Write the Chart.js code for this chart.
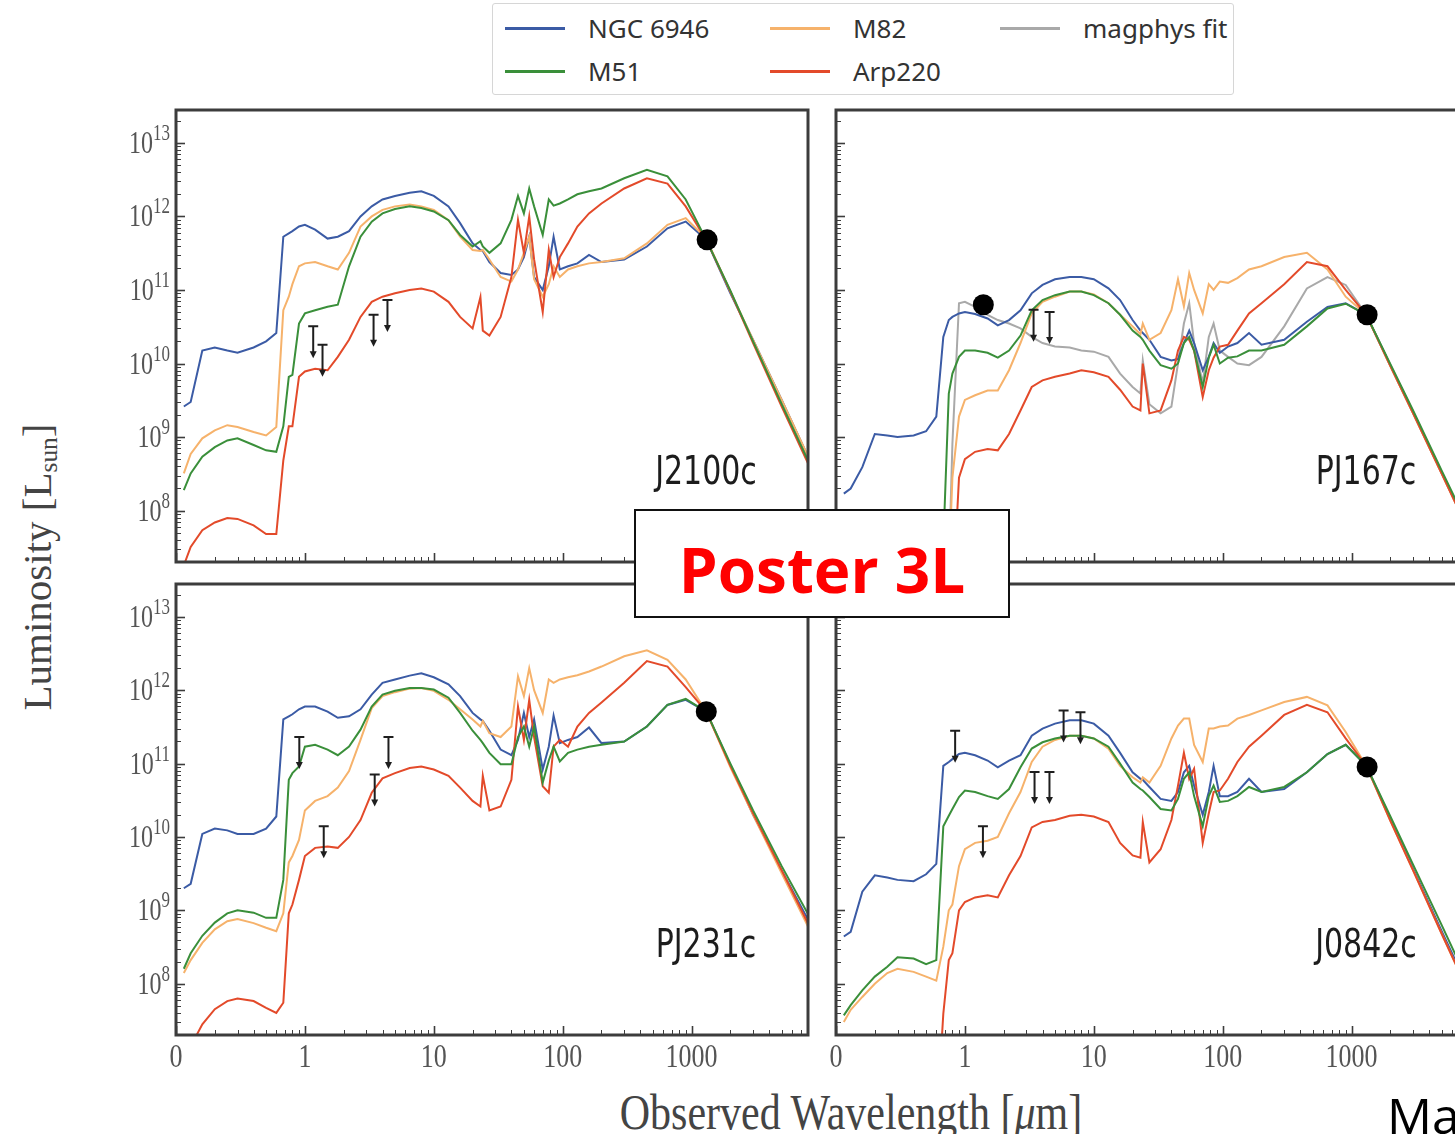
<!DOCTYPE html>
<html>
<head>
<meta charset="utf-8">
<script src="https://cdn.jsdelivr.net/npm/chart.js@4.4.1/dist/chart.umd.min.js"></script>
<style>
  html, body { margin: 0; padding: 0; }
  body { width: 1455px; height: 1134px; overflow: hidden; position: relative; background: #fff; }
  canvas.panel { position: absolute; }
  #legend { position: absolute; left: 492px; top: 3px; width: 742px; height: 92px; box-sizing: border-box;
            border: 1.5px solid #d6d6d6; border-radius: 3px; background: #fff; }
  .entry { position: absolute; height: 30px; width: 240px; }
  .swatch { position: absolute; left: 0; top: 14px; width: 60px; height: 3px; }
  .entry .label { position: absolute; left: 83px; top: 0; font: 26px "Noto Sans", sans-serif; color: #333;
                  line-height: 30px; white-space: nowrap; }
  #xtitle { position: absolute; left: 851px; top: 1112px; transform: translate(-50%, -50%) scaleY(1.2);
            font: 42px "Liberation Serif", serif; color: #444; white-space: nowrap; }
  #ytitle { position: absolute; left: 38px; top: 567px; transform: translate(-50%, -50%) rotate(-90deg);
            font: 41px "Liberation Serif", serif; color: #444; white-space: nowrap; }
  #ytitle sub { font-size: 0.62em; vertical-align: -0.2em; }
  #posterBox { position: absolute; left: 634px; top: 509px; width: 376px; height: 109px; box-sizing: border-box;
               border: 2px solid #111; background: #fff; }
  #posterText { position: absolute; left: 634px; top: 538px; width: 376px; text-align: center;
                font: 700 62px "Open Sans", sans-serif; line-height: 62px; color: #ff0000; }
  #ma { position: absolute; left: 1387px; top: 1090px; font: 50px "Open Sans", sans-serif; line-height: 50px; color: #000; }
</style>
</head>
<body>
<div id="legend"></div>
<div id="xtitle">Observed Wavelength [<i>μ</i>m]</div>
<div id="ytitle">Luminosity [L<sub>sun</sub>]</div>
<script>
// shared wavelength grid (observed, micron)
const wavelength = [
  0.115, 0.13, 0.16, 0.2, 0.25, 0.3, 0.4, 0.5, 0.6, 0.68,
  0.75, 0.8, 0.9, 1.0, 1.2, 1.5, 1.8, 2.2, 2.7, 3.3,
  4, 5, 6.5, 8, 10, 13, 16, 20, 23, 24,
  27, 33, 40, 45, 50, 55, 60, 70, 78, 85,
  95, 110, 130, 160, 200, 300, 450, 650, 900, 1300,
  2000, 3000, 5000, 8000
];

const seriesNames = ['NGC 6946', 'M51', 'M82', 'Arp220', 'magphys fit'];
const seriesColors = ['#3b5ba5', '#3a8f3a', '#f6b26b', '#e34a2a', '#a9a9a9'];

const xTickValues = [0.1, 1, 10, 100, 1000];
const xTickLabels = ['0', '1', '10', '100', '1000'];
const yTickValues = [1e8, 1e9, 1e10, 1e11, 1e12, 1e13];
const yTickExponents = ['8', '9', '10', '11', '12', '13'];

// ---- J2100c ----
const j2100cNGC6946 = [
  2.6e9, 3.0e9, 1.5e10, 1.65e10, 1.5e10, 1.4e10, 1.65e10, 2.0e10, 2.6e10, 5.3e11,
  5.9e11, 6.3e11, 7.3e11, 7.7e11, 6.6e11, 5.0e11, 5.3e11, 6.3e11, 1.0e12, 1.37e12,
  1.7e12, 1.9e12, 2.1e12, 2.2e12, 1.9e12, 1.37e12, 8.1e11, 4.3e11, 3.5e11, 3.4e11,
  2.4e11, 1.7e11, 1.6e11, 1.9e11, 2.8e11, 5.3e11, 1.5e11, 1.0e11, 2.1e11, 5.3e11,
  1.9e11, 2.1e11, 2.3e11, 3.0e11, 2.4e11, 2.6e11, 3.9e11, 6.9e11, 8.5e11, 4.8e11,
  9.0e10, 2.1e10, 3.2e9, 5.4e8
];
const j2100cM51 = [
  1.9e8, 3.2e8, 5.4e8, 7.3e8, 9.0e8, 9.6e8, 7.8e8, 6.6e8, 6.3e8, 1.4e9,
  6.6e9, 7.0e9, 3.5e10, 4.8e10, 5.3e10, 5.9e10, 6.3e10, 2.1e11, 5.3e11, 8.5e11,
  1.1e12, 1.26e12, 1.37e12, 1.3e12, 1.17e12, 8.9e11, 5.6e11, 3.9e11, 4.6e11, 3.9e11,
  3.2e11, 4.3e11, 9.0e11, 1.9e12, 1.1e12, 2.4e12, 1.37e12, 5.6e11, 1.7e12, 1.4e12,
  1.5e12, 1.7e12, 2.0e12, 2.2e12, 2.4e12, 3.3e12, 4.3e12, 3.5e12, 1.7e12, 4.8e11,
  9.8e10, 2.0e10, 2.8e9, 4.8e8
];
const j2100cM82 = [
  3.2e8, 5.9e8, 9.6e8, 1.23e9, 1.45e9, 1.37e9, 1.17e9, 1.05e9, 1.37e9, 5.3e10,
  8.1e10, 1.2e11, 2.1e11, 2.3e11, 2.4e11, 2.1e11, 1.9e11, 3.2e11, 7.3e11, 1.0e12,
  1.23e12, 1.37e12, 1.45e12, 1.37e12, 1.23e12, 8.9e11, 5.3e11, 3.5e11, 3.4e11, 3.5e11,
  2.6e11, 1.5e11, 1.3e11, 1.9e11, 3.2e11, 5.3e11, 1.4e11, 8.1e10, 1.2e11, 2.1e11,
  1.5e11, 1.9e11, 2.1e11, 2.3e11, 2.4e11, 2.7e11, 4.3e11, 7.7e11, 9.5e11, 5.0e11,
  9.5e10, 2.1e10, 3.2e9, 5.5e8
];
const j2100cArp220 = [
  1.8e7, 3.2e7, 5.4e7, 6.9e7, 7.9e7, 7.7e7, 6.3e7, 4.8e7, 4.8e7, 4.8e8,
  1.4e9, 1.4e9, 6.6e9, 7.8e9, 8.5e9, 8.1e9, 1.23e10, 2.1e10, 4.3e10, 6.9e10,
  8.1e10, 9.0e10, 1.0e11, 1.05e11, 9.5e10, 6.9e10, 4.3e10, 3.0e10, 8.0e10, 2.8e10,
  2.4e10, 4.3e10, 1.5e11, 9.0e11, 3.2e11, 1.0e12, 2.6e11, 5.0e10, 3.5e11, 1.5e11,
  2.8e11, 4.3e11, 7.3e11, 1.1e12, 1.5e12, 2.4e12, 3.3e12, 2.8e12, 1.37e12, 4.8e11,
  9.5e10, 1.9e10, 2.6e9, 4.4e8
];
const j2100cDetections = [[1320, 4.8e11]];
const j2100cLimits = [[1.16, 3.2e10], [1.37, 1.8e10], [3.41, 4.6e10], [4.37, 7.3e10]];

// ---- PJ167c ----
const pj167cNGC6946 = [
  1.7e8, 2.0e8, 3.9e8, 1.1e9, 1.05e9, 1.0e9, 1.05e9, 1.2e9, 1.9e9, 2.3e10,
  3.9e10, 4.3e10, 4.8e10, 5.0e10, 4.7e10, 4.1e10, 3.3e10, 3.9e10, 5.3e10, 9.0e10,
  1.17e11, 1.4e11, 1.5e11, 1.5e11, 1.4e11, 1.05e11, 7.3e10, 3.9e10, 2.8e10, 2.6e10,
  2.1e10, 1.23e10, 1.1e10, 1.15e10, 1.9e10, 2.8e10, 1.9e10, 8.1e9, 1.23e10, 1.9e10,
  1.4e10, 1.7e10, 1.9e10, 2.6e10, 1.8e10, 2.1e10, 3.7e10, 5.9e10, 6.6e10, 4.6e10,
  9.5e9, 2.2e9, 3.3e8, 5.8e7
];
const pj167cM51 = [
  null, null, null, null, null, null, null, null, 1e6, 3.5e7,
  3.9e9, 7.3e9, 1.23e10, 1.5e10, 1.5e10, 1.4e10, 1.2e10, 1.5e10, 2.4e10, 5.3e10,
  7.3e10, 8.5e10, 9.5e10, 9.5e10, 8.5e10, 6.6e10, 4.6e10, 2.8e10, 2.3e10, 2.1e10,
  1.5e10, 9.5e9, 8.5e9, 1.0e10, 1.9e10, 2.3e10, 1.5e10, 4.8e9, 1.2e10, 1.8e10,
  1.0e10, 1.2e10, 1.25e10, 1.5e10, 1.5e10, 1.8e10, 3.2e10, 5.6e10, 6.5e10, 4.6e10,
  9.8e9, 2.3e9, 3.5e8, 6.3e7
];
const pj167cM82 = [
  null, null, null, null, null, null, null, null, null, null,
  1.5e7, 2.8e8, 1.9e9, 3.2e9, 3.7e9, 4.3e9, 4.3e9, 8.1e9, 1.9e10, 4.8e10,
  6.9e10, 8.1e10, 9.5e10, 9.5e10, 8.7e10, 6.6e10, 4.6e10, 3.2e10, 2.5e10, 3.5e10,
  2.1e10, 2.6e10, 5.3e10, 1.4e11, 6.0e10, 1.7e11, 1.0e11, 4.8e10, 1.2e11, 1.0e11,
  1.3e11, 1.25e11, 1.45e11, 1.9e11, 2.1e11, 2.8e11, 3.2e11, 1.9e11, 8.1e10, 4.6e10,
  9.2e9, 2.1e9, 3.2e8, 5.5e7
];
const pj167cArp220 = [
  null, null, null, null, null, null, null, null, null, null,
  null, 5e6, 2.8e8, 5.0e8, 6.3e8, 6.9e8, 6.6e8, 1.1e9, 2.3e9, 4.8e9,
  5.9e9, 6.6e9, 7.3e9, 8.1e9, 7.6e9, 6.6e9, 4.4e9, 2.6e9, 2.3e9, 1.0e10,
  2.1e9, 2.3e9, 5.9e9, 1.5e10, 2.3e10, 2.1e10, 1.5e10, 3.5e9, 8.1e9, 1.2e10,
  1.7e10, 1.8e10, 2.8e10, 4.8e10, 6.6e10, 1.2e11, 2.4e11, 2.1e11, 1.0e11, 4.6e10,
  9.2e9, 2.1e9, 3.2e8, 5.5e7
];
const pj167cMagphys = [
  null, null, null, null, null, null, null, null, null, null,
  1.5e7, 8.1e8, 6.6e10, 6.9e10, 5.9e10, 4.6e10, 3.9e10, 3.5e10, 3.0e10, 2.3e10,
  1.9e10, 1.7e10, 1.65e10, 1.5e10, 1.45e10, 1.23e10, 7.3e9, 4.8e9, 3.9e9, 1.1e10,
  2.8e9, 2.1e9, 2.6e9, 1.0e10, 3.5e10, 6.6e10, 1.9e10, 5.4e9, 2.3e10, 3.5e10,
  1.5e10, 1.23e10, 1.0e10, 9.5e9, 1.23e10, 3.2e10, 1.05e11, 1.5e11, 1.17e11, 4.6e10,
  9.2e9, 2.1e9, 3.2e8, 5.5e7
];
const pj167cDetections = [[1.39, 6.3e10], [1320, 4.6e10]];
const pj167cLimits = [[3.41, 5.4e10], [4.54, 5.0e10]];

// ---- PJ231c ----
const pj231cNGC6946 = [
  2.0e9, 2.3e9, 1.1e10, 1.3e10, 1.23e10, 1.1e10, 1.1e10, 1.3e10, 1.9e10, 4.0e11,
  4.4e11, 4.7e11, 5.5e11, 6.0e11, 6.0e11, 5.1e11, 4.2e11, 4.4e11, 5.5e11, 8.7e11,
  1.26e12, 1.4e12, 1.58e12, 1.7e12, 1.5e12, 1.2e12, 8.3e11, 4.9e11, 4.0e11, 3.8e11,
  2.8e11, 1.55e11, 1.3e11, 2.1e11, 4.9e11, 2.3e11, 4.0e11, 8.3e10, 1.7e11, 4.5e11,
  1.9e11, 2.1e11, 2.3e11, 3.1e11, 1.9e11, 2.0e11, 3.2e11, 6.3e11, 7.4e11, 5.1e11,
  9.5e10, 2.0e10, 3.5e9, 7.5e8
];
const pj231cM51 = [
  1.6e8, 2.6e8, 4.5e8, 6.8e8, 9.1e8, 1.0e9, 9.3e8, 7.9e8, 7.9e8, 2.6e9,
  6.0e10, 7.4e10, 9.1e10, 1.7e11, 1.8e11, 1.55e11, 1.3e11, 1.7e11, 2.9e11, 6.0e11,
  8.7e11, 9.8e11, 1.07e12, 1.07e12, 1.02e12, 7.9e11, 4.9e11, 2.8e11, 2.1e11, 1.9e11,
  1.4e11, 9.8e10, 9.8e10, 2.3e11, 3.2e11, 1.7e11, 3.2e11, 5.5e10, 1.1e11, 1.7e11,
  1.07e11, 1.4e11, 1.55e11, 1.7e11, 1.8e11, 2.0e11, 3.2e11, 6.3e11, 7.6e11, 5.1e11,
  1.0e11, 2.3e10, 4.0e9, 8.9e8
];
const pj231cM82 = [
  1.4e8, 2.1e8, 3.6e8, 5.5e8, 7.1e8, 7.6e8, 6.7e8, 5.8e8, 5.2e8, 9.1e8,
  4.5e9, 5.5e9, 9.1e9, 2.3e10, 3.1e10, 3.6e10, 4.7e10, 7.9e10, 2.1e11, 5.7e11,
  8.3e11, 9.4e11, 1.05e12, 1.07e12, 9.8e11, 7.4e11, 5.5e11, 4.0e11, 3.2e11, 3.8e11,
  2.6e11, 2.3e11, 3.2e11, 1.55e12, 8.3e11, 2.0e12, 1.0e12, 4.9e11, 1.4e12, 1.26e12,
  1.4e12, 1.5e12, 1.6e12, 1.8e12, 2.1e12, 2.9e12, 3.5e12, 2.6e12, 1.4e12, 5.1e11,
  8.9e10, 2.0e10, 3.2e9, 6.0e8
];
const pj231cArp220 = [
  1.2e7, 1.4e7, 2.8e7, 4.5e7, 5.8e7, 6.3e7, 5.8e7, 4.7e7, 4.0e7, 5.5e7,
  9.1e8, 1.2e9, 2.6e9, 5.5e9, 7.1e9, 7.4e9, 7.1e9, 1.0e10, 1.7e10, 4.0e10,
  6.3e10, 7.4e10, 8.7e10, 9.1e10, 8.3e10, 6.8e10, 4.7e10, 3.1e10, 2.6e10, 6.8e10,
  2.3e10, 2.6e10, 6.0e10, 6.0e11, 2.1e11, 7.4e11, 2.3e11, 4.9e10, 4.0e10, 1.7e11,
  2.1e11, 1.7e11, 3.2e11, 4.9e11, 6.8e11, 1.26e12, 2.5e12, 2.1e12, 1.1e12, 5.1e11,
  9.3e10, 2.1e10, 3.5e9, 6.6e8
];
const pj231cDetections = [[1300, 5.1e11]];
const pj231cLimits = [[0.905, 2.3e11], [1.40, 1.4e10], [3.48, 7.1e10], [4.45, 2.3e11]];

// ---- J0842c ----
const j0842cNGC6946 = [
  4.4e8, 5.1e8, 1.8e9, 3.0e9, 2.8e9, 2.6e9, 2.5e9, 3.1e9, 4.3e9, 9.3e10,
  1.05e11, 1.15e11, 1.35e11, 1.4e11, 1.3e11, 1.1e11, 8.9e10, 1.1e11, 1.3e11, 2.4e11,
  3.0e11, 3.5e11, 3.9e11, 3.9e11, 3.5e11, 2.4e11, 1.4e11, 7.6e10, 6.2e10, 6.0e10,
  4.8e10, 3.3e10, 3.1e10, 4.1e10, 7.6e10, 9.3e10, 5.0e10, 2.0e10, 4.1e10, 9.3e10,
  3.6e10, 3.6e10, 4.1e10, 6.2e10, 4.1e10, 4.5e10, 7.6e10, 1.35e11, 1.8e11, 9.3e10,
  1.8e10, 3.7e9, 5.2e8, 8.9e7
];
const j0842cM51 = [
  3.7e7, 5.1e7, 8.1e7, 1.25e8, 1.7e8, 2.3e8, 2.2e8, 1.85e8, 2.1e8, 1.4e10,
  1.95e10, 2.4e10, 3.5e10, 4.3e10, 4.1e10, 3.6e10, 3.3e10, 4.5e10, 8.9e10, 1.6e11,
  1.95e11, 2.2e11, 2.4e11, 2.4e11, 2.2e11, 1.7e11, 1.0e11, 5.5e10, 4.5e10, 4.3e10,
  3.5e10, 2.4e10, 2.3e10, 3.3e10, 6.2e10, 7.6e10, 3.6e10, 1.4e10, 3.6e10, 5.0e10,
  3.0e10, 3.1e10, 3.6e10, 4.8e10, 4.1e10, 4.8e10, 7.6e10, 1.35e11, 1.8e11, 9.3e10,
  1.9e10, 4.2e9, 6.3e8, 1.07e8
];
const j0842cM82 = [
  3.0e7, 4.4e7, 6.6e7, 1.0e8, 1.4e8, 1.6e8, 1.45e8, 1.25e8, 1.1e8, 3.2e8,
  1.0e9, 1.2e9, 4.0e9, 6.8e9, 8.3e9, 8.9e9, 1.0e10, 2.1e10, 4.1e10, 1.05e11,
  1.7e11, 2.1e11, 2.4e11, 2.4e11, 2.2e11, 1.6e11, 9.3e10, 6.5e10, 5.5e10, 6.5e10,
  5.5e10, 9.3e10, 2.2e11, 3.3e11, 4.1e11, 4.1e11, 1.8e11, 1.05e11, 3.0e11, 3.0e11,
  3.2e11, 3.3e11, 4.1e11, 4.6e11, 5.3e11, 6.9e11, 8.1e11, 6.2e11, 2.7e11, 9.3e10,
  1.66e10, 3.5e9, 4.8e8, 8.0e7
];
const j0842cArp220 = [
  null, null, null, null, null, null, null, null, 1e6, 3.9e7,
  2.1e8, 2.6e8, 1.0e9, 1.3e9, 1.5e9, 1.6e9, 1.5e9, 3.0e9, 5.5e9, 1.35e10,
  1.6e10, 1.7e10, 1.95e10, 2.0e10, 1.9e10, 1.6e10, 8.3e9, 5.6e9, 5.2e9, 1.6e10,
  4.5e9, 6.8e9, 1.7e10, 5.0e10, 1.4e11, 6.2e10, 8.5e10, 8.3e9, 2.1e10, 4.1e10,
  4.3e10, 6.2e10, 1.05e11, 1.7e11, 2.4e11, 4.6e11, 6.3e11, 5.0e11, 2.2e11, 9.3e10,
  1.66e10, 3.5e9, 4.8e8, 8.0e7
];
const j0842cDetections = [[1320, 9.0e10]];
const j0842cLimits = [[0.84, 2.8e11], [1.38, 1.4e10], [3.47, 7.7e10], [4.53, 7.7e10], [5.83, 5.3e11], [7.88, 5.0e11]];

// panel layout: frame = [left, top, right, bottom] of the plotting box in page pixels
const panels = [
  { name: 'J2100c', frame: [176, 110, 808, 562], showY: true, showX: false,
    series: [j2100cNGC6946, j2100cM51, j2100cM82, j2100cArp220, null],
    dots: j2100cDetections, limits: j2100cLimits },
  { name: 'PJ167c', frame: [836, 110, 1468, 562], showY: false, showX: false,
    series: [pj167cNGC6946, pj167cM51, pj167cM82, pj167cArp220, pj167cMagphys],
    dots: pj167cDetections, limits: pj167cLimits },
  { name: 'PJ231c', frame: [176, 584, 808, 1035], showY: true, showX: true,
    series: [pj231cNGC6946, pj231cM51, pj231cM82, pj231cArp220, null],
    dots: pj231cDetections, limits: pj231cLimits },
  { name: 'J0842c', frame: [836, 584, 1468, 1035], showY: false, showX: true,
    series: [j0842cNGC6946, j0842cM51, j0842cM82, j0842cArp220, null],
    dots: j0842cDetections, limits: j0842cLimits }
];

// which series ends up on top: first in this list is drawn last
const drawOrder = [1, 3, 2, 0, 4];

const PAD = { left: 100, top: 20, right: 20, bottom: 60 };
const FRAME_COLOR = '#3c3c3c';

function stretchedText(ctx, text, x, y, align, sy) {
  ctx.save();
  ctx.translate(x, y);
  ctx.scale(1, sy);
  ctx.textAlign = align;
  ctx.textBaseline = 'alphabetic';
  ctx.fillText(text, 0, 0);
  ctx.restore();
}

function makeDecor(panel) {
  return {
    id: 'decor_' + panel.name,
    afterDatasetsDraw(chart) {
      const { ctx, chartArea: a, scales: { x, y } } = chart;
      ctx.save();
      // upper limits (bar + arrow)
      ctx.strokeStyle = '#1e1e1e';
      ctx.fillStyle = '#1e1e1e';
      ctx.lineWidth = 2;
      panel.limits.forEach(([lx, ly]) => {
        const px = x.getPixelForValue(lx);
        const py = y.getPixelForValue(ly);
        ctx.beginPath();
        ctx.moveTo(px - 5, py); ctx.lineTo(px + 5, py);
        ctx.moveTo(px, py); ctx.lineTo(px, py + 26);
        ctx.stroke();
        ctx.beginPath();
        ctx.moveTo(px - 3.5, py + 25); ctx.lineTo(px + 3.5, py + 25); ctx.lineTo(px, py + 32);
        ctx.closePath();
        ctx.fill();
      });
      ctx.restore();
    },
    afterDraw(chart) {
      const { ctx, chartArea: a, scales: { x, y } } = chart;
      ctx.save();
      // inward ticks, left and bottom
      ctx.strokeStyle = FRAME_COLOR;
      for (let e = 7; e <= 13; e++) {
        for (let s = 1; s <= 9; s++) {
          const v = s * Math.pow(10, e);
          if (v < y.min || v > y.max) continue;
          const py = Math.round(y.getPixelForValue(v)) + 0.5;
          ctx.lineWidth = s === 1 ? 1.6 : 1;
          ctx.beginPath();
          ctx.moveTo(a.left, py);
          ctx.lineTo(a.left + (s === 1 ? 9 : 5), py);
          ctx.stroke();
        }
      }
      for (let e = -1; e <= 3; e++) {
        for (let s = 1; s <= 9; s++) {
          const v = s * Math.pow(10, e);
          if (v < x.min || v > x.max) continue;
          const px = Math.round(x.getPixelForValue(v)) + 0.5;
          ctx.lineWidth = s === 1 ? 1.6 : 1;
          ctx.beginPath();
          ctx.moveTo(px, a.bottom);
          ctx.lineTo(px, a.bottom - (s === 1 ? 9 : 5));
          ctx.stroke();
        }
      }
      // frame
      ctx.lineWidth = 3;
      ctx.strokeRect(a.left, a.top, a.right - a.left, a.bottom - a.top);

      // tick labels
      ctx.fillStyle = '#555';
      if (panel.showY) {
        yTickValues.forEach((v, i) => {
          const py = y.getPixelForValue(v);
          const right = a.left - 6;
          ctx.font = '17px "Liberation Serif", serif';
          const ew = ctx.measureText(yTickExponents[i]).width;
          stretchedText(ctx, yTickExponents[i], right, py - 3, 'right', 1.3);
          ctx.font = '24px "Liberation Serif", serif';
          stretchedText(ctx, '10', right - ew, py + 10, 'right', 1.3);
        });
      }
      if (panel.showX) {
        ctx.font = '26px "Liberation Serif", serif';
        xTickValues.forEach((v, i) => {
          const px = x.getPixelForValue(v);
          stretchedText(ctx, xTickLabels[i], px, a.bottom + 32, 'center', 1.3);
        });
      }
      // panel name
      ctx.fillStyle = '#1c1c1c';
      ctx.font = '30px "DejaVu Sans", sans-serif';
      stretchedText(ctx, panel.name, a.right - 102, a.bottom - 78, 'center', 1.3);
      ctx.restore();
    }
  };
}

panels.forEach((panel, k) => {
  const [l, t, r, b] = panel.frame;
  const canvas = document.createElement('canvas');
  canvas.className = 'panel';
  canvas.width = (r - l) + PAD.left + PAD.right;
  canvas.height = (b - t) + PAD.top + PAD.bottom;
  canvas.style.left = (l - PAD.left) + 'px';
  canvas.style.top = (t - PAD.top) + 'px';
  canvas.style.width = canvas.width + 'px';
  canvas.style.height = canvas.height + 'px';
  document.body.appendChild(canvas);

  const datasets = [{
    label: 'detections',
    data: panel.dots.map(([dx, dy]) => ({ x: dx, y: dy })),
    showLine: false,
    pointRadius: 10.5,
    pointBackgroundColor: '#000',
    pointBorderColor: '#000',
    pointBorderWidth: 0
  }];
  drawOrder.forEach(si => {
    const vals = panel.series[si];
    if (!vals) return;
    datasets.push({
      label: seriesNames[si],
      data: wavelength.map((w, i) => ({ x: w, y: vals[i] })),
      borderColor: seriesColors[si],
      borderWidth: 2,
      pointRadius: 0,
      fill: false,
      tension: 0,
      spanGaps: false
    });
  });

  new Chart(canvas, {
    type: 'line',
    data: { datasets },
    options: {
      responsive: false,
      animation: false,
      events: [],
      layout: { padding: PAD },
      scales: {
        x: { type: 'logarithmic', min: 0.1, max: 8000, display: false },
        y: { type: 'logarithmic', min: 2e7, max: 2.8e13, display: false }
      },
      plugins: { legend: { display: false }, tooltip: { enabled: false } }
    },
    plugins: [makeDecor(panel)]
  });
});

// legend (3 columns, 2 rows, column-major)
const legend = document.getElementById('legend');
const legendColX = [12, 277, 507];
const legendRowY = [24, 67];
seriesNames.forEach((name, i) => {
  const col = Math.floor(i / 2), row = i % 2;
  const entry = document.createElement('div');
  entry.className = 'entry';
  entry.style.left = legendColX[col] + 'px';
  entry.style.top = (legendRowY[row] - 15) + 'px';
  const sw = document.createElement('div');
  sw.className = 'swatch';
  sw.style.background = seriesColors[i];
  const lab = document.createElement('span');
  lab.className = 'label';
  lab.textContent = name;
  entry.appendChild(sw);
  entry.appendChild(lab);
  legend.appendChild(entry);
});
</script>
<div id="posterBox"></div>
<div id="posterText">Poster 3L</div>
<div id="ma">Ma</div>
</body>
</html>
